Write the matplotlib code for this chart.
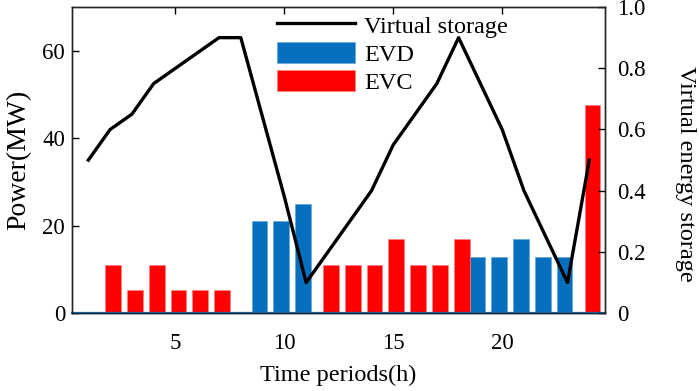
import numpy as np
import matplotlib
matplotlib.use("Agg")
import matplotlib.pyplot as plt
from matplotlib.patches import Patch
from matplotlib.lines import Line2D

plt.rcParams['font.family'] = ['Liberation Serif', 'DejaVu Serif']
plt.rcParams['font.size'] = 17

hours = list(range(1, 25))
evd = [0, 0, 0, 0, 0, 0, 0, 0, 21.1, 21.1, 25.0, 0, 0, 0, 0, 0, 0, 0,
       12.8, 12.8, 16.9, 12.8, 12.8, 0]
evc = [0, 11.0, 5.3, 11.0, 5.3, 5.3, 5.3, 0, 0, 0, 0, 11.0, 11.0, 11.0,
       16.9, 11.0, 11.0, 16.9, 0, 0, 0, 0, 0, 47.5]
storage = [0.5, 0.6, 0.65, 0.75, 0.8, 0.85, 0.9, 0.9, 0.64, 0.38, 0.1, 0.2,
           0.3, 0.4, 0.55, 0.65, 0.75, 0.9, 0.75, 0.6, 0.4, 0.25, 0.1, 0.5]
left_ticks = [0, 20, 40, 60]
right_ticks = [0, 0.2, 0.4, 0.6, 0.8, 1.0]
right_labels = ['0', '0.2', '0.4', '0.6', '0.8', '1.0']
x_ticks = [5, 10, 15, 20]

blue = '#0770BE'
red = '#FF0000'

fig = plt.figure(figsize=(6.99, 3.91), dpi=100)
ax = fig.add_axes([0.103, 0.199, 0.7625, 0.783])
x = np.array(hours)
w = 0.72
ax.bar(x - 0.14, evd, width=w, color=blue, edgecolor='#5aa0d8', linewidth=0.4, zorder=2)
ax.bar(x + 0.14, evc, width=w, color=red, edgecolor='#ff8080', linewidth=0.4, zorder=2)
ax.axhline(0, color=blue, lw=1.6, zorder=3, clip_on=False)
ax.set_xlim(0.25, 24.72)
ax.set_ylim(0, 70)
ax.set_yticks(left_ticks)
ax.set_xticks(x_ticks)
ax.set_ylabel('Power(MW)', fontsize=20, labelpad=8)
ax.set_xlabel('Time periods(h)', fontsize=17.5, labelpad=8)
ax.tick_params(axis='both', direction='in', length=5, width=1, labelsize=16.5)
ax.tick_params(axis='x', top=True, pad=14)
ax.tick_params(axis='y', right=False, pad=5)
for s in ax.spines.values():
    s.set_color('#262626')
    s.set_linewidth(1)

ax2 = ax.twinx()
ax2.plot(hours, storage, color='black', lw=2.4, zorder=5)
ax2.set_ylim(0, 1.0)
ax2.set_yticks(right_ticks)
ax2.set_yticklabels(right_labels)
ax2.set_ylabel('Virtual energy storage', fontsize=17.5, rotation=270, labelpad=36)
ax2.yaxis.label.set_y(0.455)
ax2.tick_params(direction='in', length=5, width=1, pad=9, labelsize=16.5)
for s in ax2.spines.values():
    s.set_color('#262626')
    s.set_linewidth(1)

handles = [Line2D([], [], color='black', lw=2.4),
           Patch(facecolor=blue, edgecolor='#5aa0d8', linewidth=0.4),
           Patch(facecolor=red, edgecolor='#ff8080', linewidth=0.4)]
leg = ax2.legend(handles, ['Virtual storage', 'EVD', 'EVC'],
                 loc='upper left', bbox_to_anchor=(272/699, 1 - 9/391),
                 bbox_transform=fig.transFigure, frameon=False, fontsize=17.5,
                 handlelength=3.2, handleheight=0.95, handletextpad=0.4,
                 labelspacing=0.18, borderaxespad=0, borderpad=0.2)

fig.savefig('out.png', dpi=100)
